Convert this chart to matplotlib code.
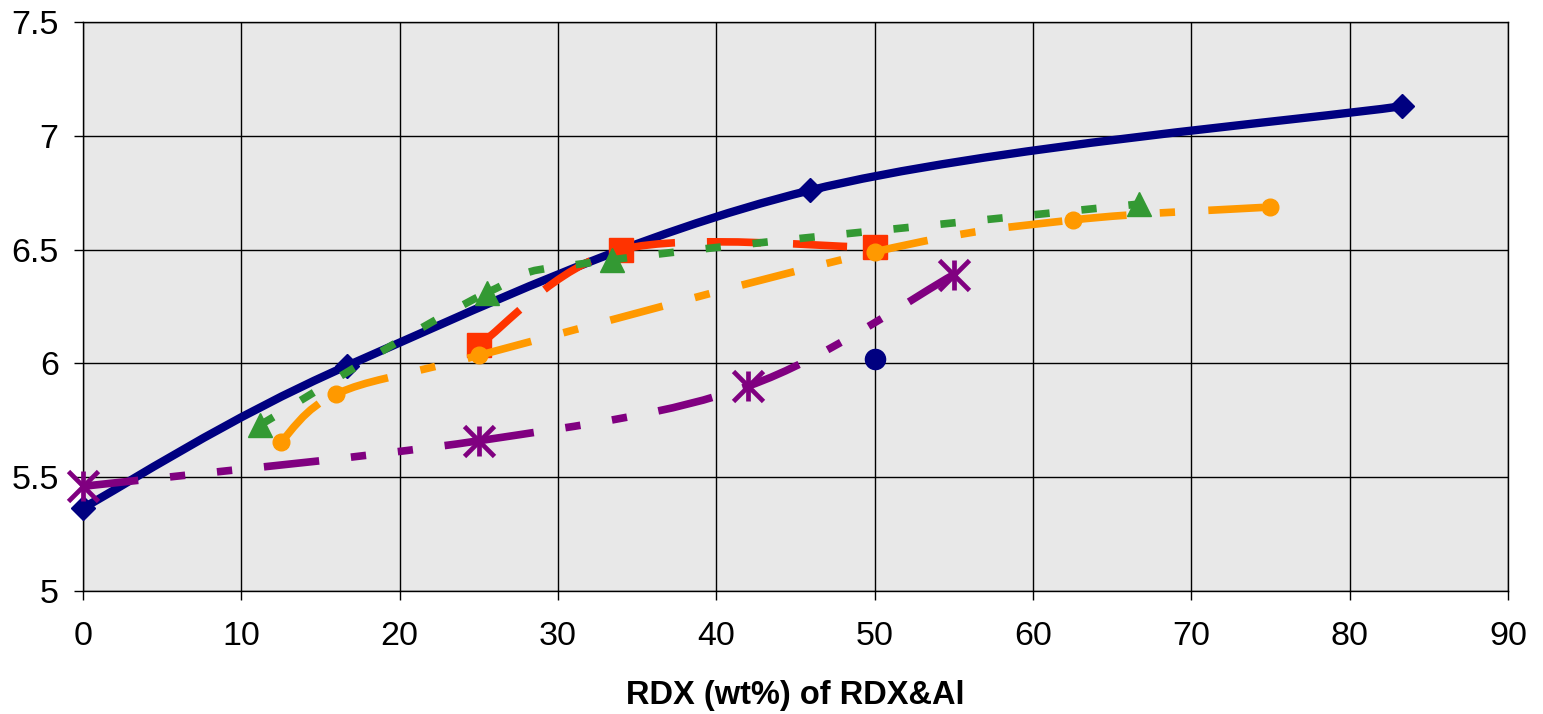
import matplotlib
matplotlib.use('Agg')
import matplotlib.pyplot as plt
from matplotlib.path import Path
from matplotlib.patches import PathPatch
import numpy as np

plt.rcParams['font.family'] = ['Liberation Sans', 'DejaVu Sans']
plt.rcParams['lines.scale_dashes'] = False

# values
x_navy = [0, 16.7, 45.9, 83.3]
y_navy = [5.365, 5.99, 6.76, 7.13]

x_red = [25, 34, 50]
y_red = [6.08, 6.50, 6.51]

x_green = [11.2, 25.5, 33.4, 66.7]
y_green = [5.73, 6.31, 6.455, 6.70]

x_orange = [12.5, 16, 25, 50, 62.5, 75]
y_orange = [5.655, 5.866, 6.035, 6.49, 6.63, 6.687]

x_purple = [0, 25, 42, 55]
y_purple = [5.46, 5.66, 5.90, 6.39]

x_single = [50]
y_single = [6.02]

x_ticks = list(range(0, 91, 10))
y_ticks = [5, 5.5, 6, 6.5, 7, 7.5]
y_tick_labels = ['5', '5.5', '6', '6.5', '7', '7.5']
x_title = 'RDX (wt%) of RDX&Al'


def smooth_segments(xs, ys):
    # Excel-style smoothed line: one bezier per pair of points
    pts = np.column_stack([xs, ys]).astype(float)
    n = len(pts)
    segs = []
    for i in range(n - 1):
        p0 = pts[max(i - 1, 0)]
        p1 = pts[i]
        p2 = pts[i + 1]
        p3 = pts[min(i + 2, n - 1)]
        c1 = p1 + (p2 - p0) / 6
        c2 = p2 - (p3 - p1) / 6
        segs.append(Path([p1, c1, c2, p2],
                         [Path.MOVETO, Path.CURVE4, Path.CURVE4, Path.CURVE4]))
    return segs


def draw_series(ax, xs, ys, color, lw, dashes, z):
    # each segment is its own patch so the dash pattern restarts at every point
    for seg in smooth_segments(xs, ys):
        patch = PathPatch(seg, fill=False, edgecolor=color, lw=lw, zorder=z,
                          capstyle='butt', joinstyle='round')
        if dashes is not None:
            patch.set_linestyle((0, dashes))
        ax.add_patch(patch)


fig = plt.figure(figsize=(15.43, 7.14), dpi=100)
ax = fig.add_axes([0.0538, 0.1723, 0.9235, 0.7969])
ax.set_facecolor('#E8E8E8')

navy = '#000080'
red = '#FF3300'
green = '#339933'
orange = '#FF9900'
purple = '#800080'

draw_series(ax, x_navy, y_navy, navy, 6, None, 3)
ax.plot(x_navy, y_navy, ls='none', marker='D', ms=12.5, color=navy, zorder=3.5, clip_on=False)

draw_series(ax, x_red, y_red, red, 5.5, (39, 23), 4)
ax.plot(x_red, y_red, ls='none', marker='s', ms=17, color=red, zorder=4.5, clip_on=False)

draw_series(ax, x_green, y_green, green, 5.5, (11, 23), 5)
ax.plot(x_green, y_green, ls='none', marker='^', ms=17, color=green, zorder=5.5, clip_on=False)

draw_series(ax, x_orange, y_orange, orange, 5.5, (39, 24, 11, 24), 6)
ax.plot(x_orange, y_orange, ls='none', marker='o', ms=12, color=orange, zorder=6.5, clip_on=False)

draw_series(ax, x_purple, y_purple, purple, 5.5, (40, 23, 11, 23, 11, 23), 7)
ax.plot(x_purple, y_purple, ls='none', marker='x', ms=21, mew=3.4, color=purple, zorder=7.5, clip_on=False)
ax.plot(x_purple, y_purple, ls='none', marker='|', ms=22, mew=3.4, color=purple, zorder=7.5, clip_on=False)

ax.plot(x_single, y_single, ls='none', marker='o', ms=14.5, color=navy, zorder=8, clip_on=False)

ax.set_xlim(0, 90)
ax.set_ylim(5, 7.5)
ax.set_xticks(x_ticks)
ax.set_yticks(y_ticks)
ax.set_yticklabels(y_tick_labels)
ax.grid(True, color='black', lw=1)
ax.set_axisbelow(True)
for sp in ax.spines.values():
    sp.set_color('black')
    sp.set_linewidth(1)

ax.tick_params(axis='both', direction='out', length=6.5, width=1, labelsize=24.5)
ax.tick_params(axis='x', pad=15)
ax.tick_params(axis='y', pad=11)
ax.set_xlabel(x_title, fontsize=23.5, fontweight='bold', labelpad=20)

fig.savefig('out.png', dpi=100)
